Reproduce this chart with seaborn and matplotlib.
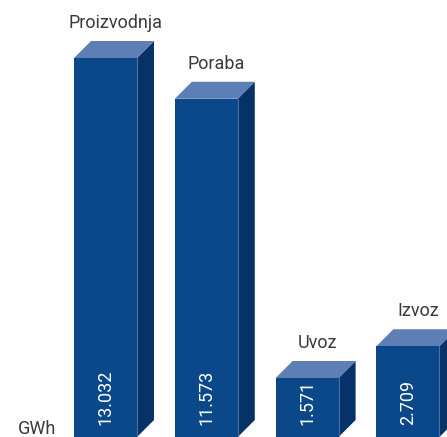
import matplotlib
matplotlib.use("Agg")
import matplotlib.pyplot as plt
import seaborn as sns
import pandas as pd
from matplotlib.patches import Polygon

categories = ["Proizvodnja", "Poraba", "Uvoz", "Izvoz"]
values = [13032, 11573, 1571, 2709]
value_labels = ["13.032", "11.573", "1.571", "2.709"]
unit = "GWh"

df = pd.DataFrame({"cat": categories, "val": values})

sns.set_theme(style="white")
plt.rcParams['font.family'] = ['Roboto', 'DejaVu Sans']

FRONT = "#0b4889"
SIDE = "#063268"
TOP = "#5d7fb6"
EDGE = "#4a70a8"

W, H = 447, 437
fig = plt.figure(figsize=(W / 100, H / 100), dpi=100)
ax = fig.add_axes([0, 0, 1, 1])
sns.barplot(data=df, x="cat", y="val", order=categories, color=FRONT,
            saturation=1, width=0.625, ax=ax, linewidth=0)

px_per_x = 100.8
x0_px = 105.5
ax.set_xlim(-x0_px / px_per_x, (W - x0_px) / px_per_x)
vb = -542
px_per_v = 0.02792
ax.set_ylim(vb, vb + H / px_per_v)
ax.axis("off")

ddx = 17 / px_per_x
ddy = 17 / px_per_v

for p in ax.patches:
    top = p.get_y() + p.get_height()
    p.set_y(vb)
    p.set_height(top - vb)
    p.set_zorder(3)

for i, (bar, v) in enumerate(zip(list(ax.patches)[:len(values)], values)):
    left = bar.get_x()
    right = left + bar.get_width()
    top = bar.get_y() + bar.get_height()
    side = Polygon([(right, vb), (right, top), (right + ddx, top + ddy),
                    (right + ddx, vb + ddy)], closed=True, facecolor=SIDE,
                   edgecolor="none", zorder=2)
    ax.add_patch(side)
    topf = Polygon([(left, top), (right, top), (right + ddx, top + ddy),
                    (left + ddx, top + ddy)], closed=True, facecolor=TOP,
                   edgecolor="none", zorder=2)
    ax.add_patch(topf)
    ax.plot([right, right], [vb, top], color=EDGE, lw=0.8, zorder=4)
    ax.text(i, -110, value_labels[i], rotation=90, ha="center", va="bottom",
            color="white", fontsize=13, zorder=5)
    ax.annotate(categories[i], xy=(i, top), xytext=(10, 30),
                textcoords="offset pixels", ha="center", va="baseline",
                fontsize=13, color="#3a3a3a", zorder=5)

fig.text(18 / W, 3 / H, unit, ha="left", va="baseline", fontsize=13,
         color="#3a3a3a")

fig.savefig("out.png", dpi=100)
